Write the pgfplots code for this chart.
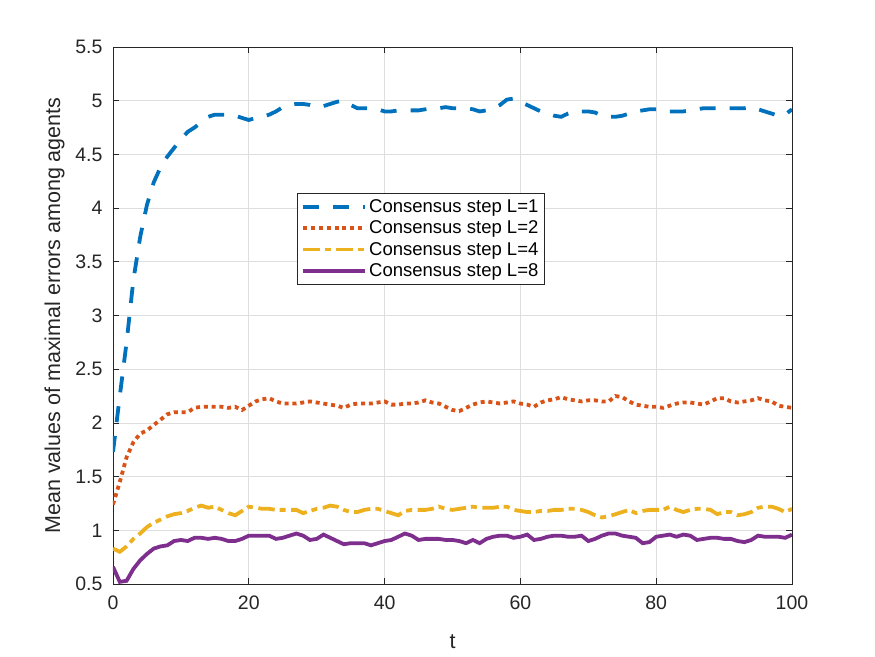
\documentclass[border=0pt]{standalone}
\usepackage{pgfplots}
\pgfplotsset{compat=1.18}
\usepackage{fontspec}
\setmainfont{Liberation Sans}
\definecolor{cA}{HTML}{0072BD}
\definecolor{cB}{HTML}{D95319}
\definecolor{cC}{HTML}{EDB120}
\definecolor{cD}{HTML}{7E2F8E}
\definecolor{axc}{HTML}{262626}
\definecolor{gridc}{HTML}{DEDEDE}
\begin{document}
\begin{tikzpicture}
\path[use as bounding box] (-113bp,-73bp) rectangle (762bp,584bp);
\begin{axis}[
  scale only axis, width=679bp, height=537bp,
  xmin=0, xmax=100, ymin=0.5, ymax=5.5,
  xtick={0,20,40,60,80,100},
  ytick={0.5,1,1.5,2,2.5,3,3.5,4,4.5,5,5.5},
  yticklabels={0.5,1,1.5,2,2.5,3,3.5,4,4.5,5,5.5},
  xticklabels={0,20,40,60,80,100},
  grid=major,
  major grid style={gridc, line width=0.8bp},
  tick align=inside, major tick length=6bp,
  tick style={axc, line width=0.8bp},
  axis line style={axc, line width=0.8bp},
  ticklabel style={font=\fontsize{19.5bp}{22bp}\selectfont, text=axc},
  /pgf/number format/assume math mode=true,
  xticklabel style={yshift=-8bp},
  yticklabel style={xshift=-7bp},
  xlabel={t}, ylabel={Mean values of maximal errors among agents},
  label style={font=\fontsize{21.5bp}{24bp}\selectfont, text=axc},
  xlabel style={yshift=-18bp},
  ylabel style={yshift=4bp},
  legend style={at={(rel axis cs:0.271,0.728)}, anchor=north west,
    draw=axc, line width=0.8bp, fill=white,
    font=\fontsize{18.5bp}{21bp}\selectfont, text=black,
    inner xsep=4bp, inner ysep=4bp, row sep=3bp,
    nodes={inner sep=2bp}},
  legend cell align=left,
  legend image code/.code={\draw[#1] (0bp,0bp) -- (62bp,0bp);},
]
\addplot[cA, line width=3.8bp, dash pattern=on 16bp off 14bp] coordinates {
(0,1.73)(1,2.25)(2,2.75)(3,3.33)(4,3.73)(5,4.03)(6,4.24)(7,4.38)(8,4.48)(9,4.56)
(10,4.64)(11,4.71)(12,4.75)(13,4.80)(14,4.85)(15,4.87)(16,4.87)(17,4.87)(18,4.86)(19,4.84)
(20,4.82)(21,4.84)(22,4.85)(23,4.87)(24,4.90)(25,4.94)(26,4.96)(27,4.97)(28,4.97)(29,4.96)
(30,4.94)(31,4.95)(32,4.97)(33,4.99)(34,5.00)(35,4.96)(36,4.93)(37,4.93)(38,4.93)(39,4.92)
(40,4.90)(41,4.90)(42,4.91)(43,4.91)(44,4.91)(45,4.91)(46,4.92)(47,4.93)(48,4.93)(49,4.94)
(50,4.93)(51,4.93)(52,4.93)(53,4.92)(54,4.90)(55,4.91)(56,4.93)(57,4.96)(58,5.01)(59,5.02)
(60,4.99)(61,4.96)(62,4.93)(63,4.90)(64,4.88)(65,4.86)(66,4.85)(67,4.88)(68,4.90)(69,4.90)
(70,4.90)(71,4.89)(72,4.86)(73,4.85)(74,4.85)(75,4.86)(76,4.88)(77,4.90)(78,4.91)(79,4.92)
(80,4.92)(81,4.91)(82,4.90)(83,4.90)(84,4.90)(85,4.91)(86,4.92)(87,4.93)(88,4.93)(89,4.93)
(90,4.93)(91,4.93)(92,4.93)(93,4.93)(94,4.94)(95,4.92)(96,4.90)(97,4.88)(98,4.86)(99,4.87)
(100,4.92)};
\addlegendentry{Consensus step L=1}
\addplot[cB, line width=3.8bp, dash pattern=on 4bp off 3.8bp] coordinates {
(0,1.24)(1,1.45)(2,1.68)(3,1.82)(4,1.90)(5,1.93)(6,1.98)(7,2.03)(8,2.08)(9,2.10)
(10,2.10)(11,2.10)(12,2.14)(13,2.15)(14,2.15)(15,2.15)(16,2.15)(17,2.14)(18,2.15)(19,2.12)
(20,2.16)(21,2.20)(22,2.22)(23,2.23)(24,2.20)(25,2.18)(26,2.18)(27,2.18)(28,2.19)(29,2.20)
(30,2.19)(31,2.18)(32,2.17)(33,2.16)(34,2.14)(35,2.17)(36,2.18)(37,2.18)(38,2.18)(39,2.19)
(40,2.20)(41,2.17)(42,2.17)(43,2.18)(44,2.18)(45,2.19)(46,2.21)(47,2.19)(48,2.18)(49,2.15)
(50,2.12)(51,2.11)(52,2.14)(53,2.17)(54,2.19)(55,2.20)(56,2.19)(57,2.18)(58,2.19)(59,2.20)
(60,2.18)(61,2.17)(62,2.15)(63,2.19)(64,2.21)(65,2.22)(66,2.24)(67,2.22)(68,2.21)(69,2.20)
(70,2.21)(71,2.21)(72,2.20)(73,2.20)(74,2.25)(75,2.24)(76,2.20)(77,2.17)(78,2.16)(79,2.15)
(80,2.15)(81,2.14)(82,2.16)(83,2.18)(84,2.19)(85,2.19)(86,2.18)(87,2.17)(88,2.20)(89,2.23)
(90,2.23)(91,2.20)(92,2.19)(93,2.20)(94,2.21)(95,2.23)(96,2.21)(97,2.20)(98,2.16)(99,2.15)
(100,2.14)};
\addlegendentry{Consensus step L=2}
\addplot[cC, line width=3.8bp, dash pattern=on 16.5bp off 5bp on 6bp off 5.5bp] coordinates {
(0,0.83)(1,0.80)(2,0.85)(3,0.92)(4,0.97)(5,1.03)(6,1.07)(7,1.10)(8,1.13)(9,1.15)
(10,1.16)(11,1.18)(12,1.21)(13,1.23)(14,1.21)(15,1.22)(16,1.19)(17,1.16)(18,1.14)(19,1.18)
(20,1.22)(21,1.21)(22,1.20)(23,1.20)(24,1.19)(25,1.19)(26,1.19)(27,1.19)(28,1.16)(29,1.18)
(30,1.20)(31,1.21)(32,1.23)(33,1.22)(34,1.19)(35,1.17)(36,1.17)(37,1.19)(38,1.20)(39,1.20)
(40,1.18)(41,1.16)(42,1.14)(43,1.18)(44,1.19)(45,1.19)(46,1.19)(47,1.20)(48,1.22)(49,1.20)
(50,1.19)(51,1.20)(52,1.21)(53,1.22)(54,1.21)(55,1.21)(56,1.21)(57,1.22)(58,1.22)(59,1.19)
(60,1.18)(61,1.17)(62,1.17)(63,1.18)(64,1.18)(65,1.19)(66,1.19)(67,1.20)(68,1.20)(69,1.19)
(70,1.17)(71,1.14)(72,1.12)(73,1.13)(74,1.15)(75,1.17)(76,1.19)(77,1.16)(78,1.18)(79,1.19)
(80,1.19)(81,1.19)(82,1.22)(83,1.19)(84,1.17)(85,1.19)(86,1.20)(87,1.20)(88,1.19)(89,1.15)
(90,1.17)(91,1.17)(92,1.14)(93,1.15)(94,1.17)(95,1.21)(96,1.22)(97,1.22)(98,1.20)(99,1.17)
(100,1.20)};
\addlegendentry{Consensus step L=4}
\addplot[cD, line width=3.8bp] coordinates {
(0,0.66)(1,0.52)(2,0.53)(3,0.64)(4,0.72)(5,0.78)(6,0.83)(7,0.85)(8,0.86)(9,0.90)
(10,0.91)(11,0.90)(12,0.93)(13,0.93)(14,0.92)(15,0.93)(16,0.92)(17,0.90)(18,0.90)(19,0.92)
(20,0.95)(21,0.95)(22,0.95)(23,0.95)(24,0.92)(25,0.93)(26,0.95)(27,0.97)(28,0.95)(29,0.91)
(30,0.92)(31,0.96)(32,0.93)(33,0.90)(34,0.87)(35,0.88)(36,0.88)(37,0.88)(38,0.86)(39,0.88)
(40,0.90)(41,0.91)(42,0.94)(43,0.97)(44,0.95)(45,0.91)(46,0.92)(47,0.92)(48,0.92)(49,0.91)
(50,0.91)(51,0.90)(52,0.88)(53,0.91)(54,0.88)(55,0.92)(56,0.94)(57,0.95)(58,0.95)(59,0.93)
(60,0.94)(61,0.96)(62,0.91)(63,0.92)(64,0.94)(65,0.95)(66,0.95)(67,0.94)(68,0.94)(69,0.95)
(70,0.90)(71,0.92)(72,0.95)(73,0.97)(74,0.97)(75,0.95)(76,0.94)(77,0.93)(78,0.88)(79,0.89)
(80,0.94)(81,0.95)(82,0.96)(83,0.94)(84,0.96)(85,0.95)(86,0.91)(87,0.92)(88,0.93)(89,0.93)
(90,0.92)(91,0.92)(92,0.90)(93,0.89)(94,0.91)(95,0.95)(96,0.94)(97,0.94)(98,0.94)(99,0.93)
(100,0.96)};
\addlegendentry{Consensus step L=8}
\end{axis}
\end{tikzpicture}
\end{document}
